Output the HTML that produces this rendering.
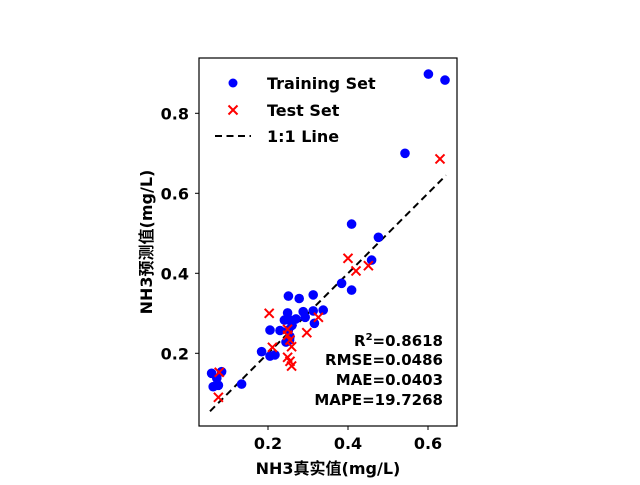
<!DOCTYPE html>
<html><head><meta charset="utf-8"><style>
html,body{margin:0;padding:0;background:#fff;}
svg text{font-family:"DejaVu Sans","Noto Sans CJK SC",sans-serif;font-weight:bold;}
</style></head><body>
<svg id="chart" width="640" height="480" xmlns="http://www.w3.org/2000/svg">
<rect x="199" y="58" width="258" height="368" fill="none" stroke="#000" stroke-width="1.2"/>
<g id="ticks"></g>
<line x1="0" y1="0" x2="0" y2="0" id="diag" stroke="#000" stroke-width="2" stroke-dasharray="7,4.5"/>
<g id="marks"></g>
<g>
<circle cx="233" cy="83" r="4.5" fill="#0000ff"/>
<text x="267" y="89" font-size="16">Training Set</text>
<path d="M228.5 105.5 L237.5 114.5 M237.5 105.5 L228.5 114.5" stroke="#ff0000" stroke-width="2"/>
<text x="267" y="116" font-size="16">Test Set</text>
<line x1="215" y1="136" x2="251" y2="136" stroke="#000" stroke-width="2" stroke-dasharray="7,4.5"/>
<text x="267" y="142" font-size="16">1:1 Line</text>
</g>
<g font-size="15" text-anchor="end">
<text x="443" y="346">R<tspan font-size="10" dy="-6">2</tspan><tspan dy="6">=0.8618</tspan></text>
<text x="443" y="365">RMSE=0.0486</text>
<text x="443" y="385">MAE=0.0403</text>
<text x="443" y="405">MAPE=19.7268</text>
</g>
<text x="328" y="474" font-size="16" text-anchor="middle">NH3真实值(mg/L)</text>
<text transform="translate(152,242) rotate(-90)" font-size="16" text-anchor="middle">NH3预测值(mg/L)</text>
</svg>
<script>
const trainX=[0.601,0.6425,0.5425,0.409,0.476,0.459,0.384,0.409,0.251,0.278,0.313,0.249,0.241,0.255,0.27,0.288,0.293,0.313,0.338,0.316,0.205,0.23,0.251,0.255,0.254,0.184,0.205,0.2175,0.059,0.084,0.072,0.063,0.076,0.134,0.26,0.245];
const trainY=[0.898,0.883,0.70,0.523,0.49,0.433,0.375,0.358,0.343,0.337,0.346,0.301,0.283,0.283,0.286,0.304,0.29,0.306,0.308,0.275,0.258,0.257,0.258,0.242,0.233,0.204,0.193,0.196,0.15,0.154,0.1375,0.1165,0.12,0.123,0.27,0.228];
const testX=[0.40,0.203,0.326,0.249,0.297,0.249,0.255,0.259,0.211,0.249,0.255,0.259,0.078,0.076,0.42,0.451,0.63];
const testY=[0.4375,0.30,0.29,0.26,0.2515,0.245,0.233,0.2165,0.215,0.19,0.18,0.168,0.1525,0.09,0.406,0.419,0.686];
const xTicks=[0.2,0.4,0.6];
const yTicks=[0.2,0.4,0.6,0.8];
const lineRange=[0.055,0.645];
const sx=v=>188+400*v, sy=v=>433.3-400*v;
const NS="http://www.w3.org/2000/svg";
const ticks=document.getElementById('ticks'), marks=document.getElementById('marks');
xTicks.forEach(t=>{
 const l=document.createElementNS(NS,'line');
 l.setAttribute('x1',sx(t));l.setAttribute('x2',sx(t));l.setAttribute('y1',426);l.setAttribute('y2',430);l.setAttribute('stroke','#000');
 
 
 ticks.appendChild(l);
 const tx=document.createElementNS(NS,'text');
 tx.setAttribute('x',sx(t));tx.setAttribute('y',449);tx.setAttribute('font-size','16');tx.setAttribute('text-anchor','middle');tx.textContent=t.toFixed(1);
 
 
 ticks.appendChild(tx);
});
yTicks.forEach(t=>{
 const l=document.createElementNS(NS,'line');
 l.setAttribute('x1',195);l.setAttribute('x2',199);l.setAttribute('y1',sy(t));l.setAttribute('y2',sy(t));l.setAttribute('stroke','#000');
 
 
 ticks.appendChild(l);
 const tx=document.createElementNS(NS,'text');
 tx.setAttribute('x',189);tx.setAttribute('y',sy(t)+6);tx.setAttribute('font-size','16');tx.setAttribute('text-anchor','end');tx.textContent=t.toFixed(1);
 
 
 ticks.appendChild(tx);
});
const d=document.getElementById('diag');
d.setAttribute('x1',sx(lineRange[0]));d.setAttribute('y1',sy(lineRange[0]));d.setAttribute('x2',sx(lineRange[1]));d.setAttribute('y2',sy(lineRange[1]));
trainX.forEach((x,i)=>{
 const c=document.createElementNS(NS,'circle');
 c.setAttribute('cx',sx(x));c.setAttribute('cy',sy(trainY[i]));c.setAttribute('r',4.8);c.setAttribute('fill','#0000ff');
 
 
 marks.appendChild(c);
});
testX.forEach((x,i)=>{
 const cx=sx(x),cy=sy(testY[i]);
 const p=document.createElementNS(NS,'path');
 p.setAttribute('d',`M${cx-4.5} ${cy-4.5}L${cx+4.5} ${cy+4.5}M${cx+4.5} ${cy-4.5}L${cx-4.5} ${cy+4.5}`);
 p.setAttribute('stroke','#ff0000');p.setAttribute('stroke-width','2');
 
 
 marks.appendChild(p);
});
</script>
</body></html>
